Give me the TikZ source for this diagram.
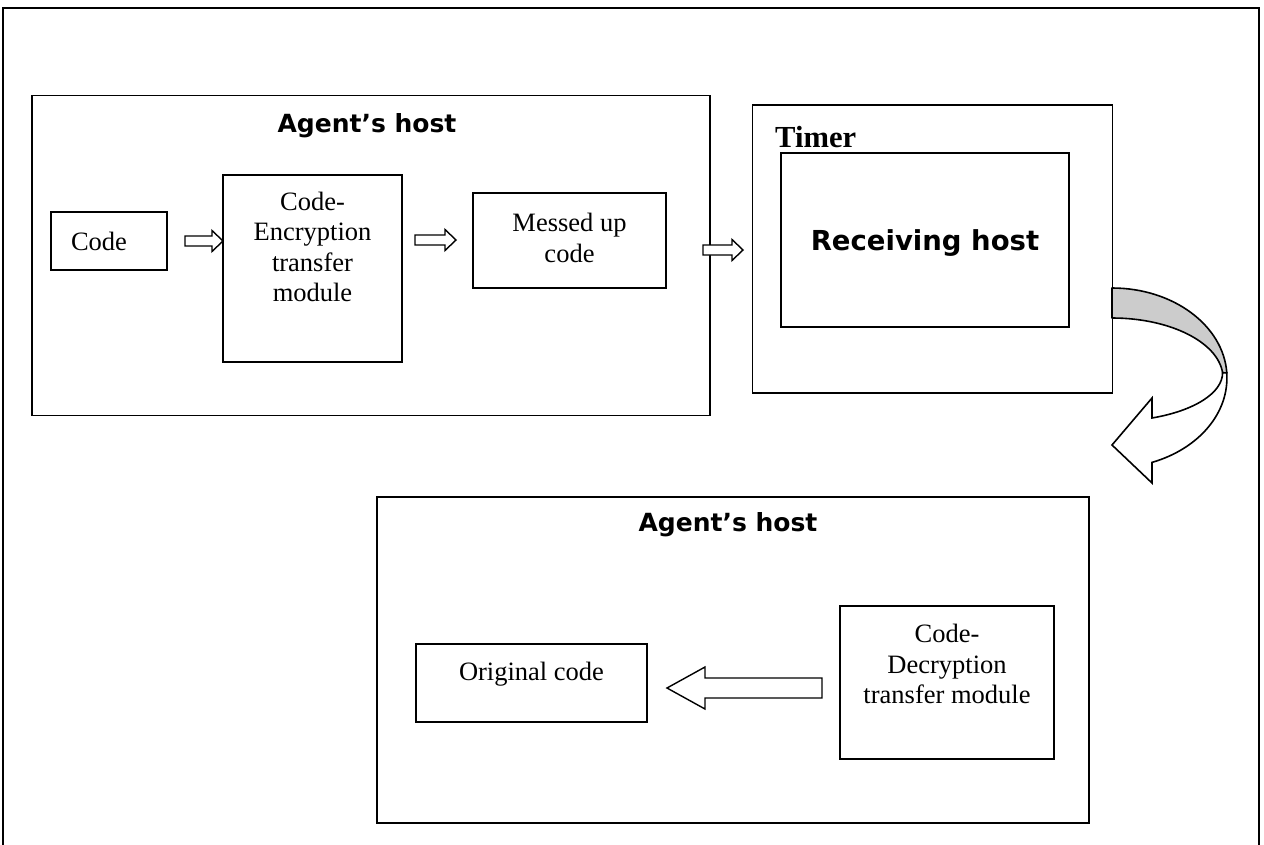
\documentclass[tikz,border=0pt]{standalone}
\usepackage{fontspec}
\setmainfont{Liberation Serif}
\newfontfamily\headsans{DejaVu Sans}
\usetikzlibrary{calc}

\tikzset{
  frame/.style={line width=1.6pt, line cap=rect},
  box/.style={draw, line width=1.6pt, rectangle, inner sep=0pt, fill=white},
  serif/.style={font=\fontsize{26.5}{30.5}\selectfont, inner sep=0pt, align=center},
  head/.style={font=\headsans\bfseries\fontsize{25}{30}\selectfont, inner sep=0pt},
  bighead/.style={font=\headsans\bfseries\fontsize{27.5}{32}\selectfont, inner sep=0pt},
  timerlbl/.style={font=\bfseries\fontsize{30.6}{34}\selectfont, inner sep=0pt, anchor=base west},
  blockarrow/.style={draw, line width=1.4pt, fill=white, line join=miter},
  bandback/.style={draw, line width=1.6pt, fill=black!20, line join=round},
  bandfront/.style={draw, line width=1.6pt, fill=white, line join=miter},
}

% horizontal block arrow: #1 tail coordinate, #2 tip coordinate,
% #3 half shaft height, #4 half head height, #5 head length (negative when pointing left)
\newcommand{\hblock}[5]{%
  \draw[blockarrow]
    ($(#1)+(0,-#3)$) -- ($(#2)+(-#5,-#3)$) -- ($(#2)+(-#5,-#4)$) -- (#2)
    -- ($(#2)+(-#5,#4)$) -- ($(#2)+(-#5,#3)$) -- ($(#1)+(0,#3)$) -- cycle;}

\begin{document}
\begin{tikzpicture}[x=1pt, y=-1pt]
  \useasboundingbox (0,0) rectangle (1264,844);

  % page frame, open at the bottom
  \draw[frame] (3,844) -- (3,8) -- (1259,8) -- (1259,844);

  % ---- sending host ----
  \node[box, minimum width=678, minimum height=320] (hostA) at (371,255.5) {};
  \node[head] (hostAt) at (367,126) {Agent’s host};

  \node[box, minimum width=116, minimum height=58] (code) at (109,241) {};
  \node[serif] (codet) at (99,241) {Code};

  \node[box, minimum width=179, minimum height=187] (enc) at (312.5,268.5) {};
  \node[serif] (enct) at (312.5,247) {Code-\\Encryption\\transfer\\module};

  \node[box, minimum width=193, minimum height=95] (mess) at (569.5,240.5) {};
  \node[serif] (messt) at (569.5,238) {Messed up\\code};

  % ---- timer and receiving host ----
  \node[box, minimum width=360, minimum height=288] (timer) at (932.5,249) {};
  \node[timerlbl] (timert) at (775,147) {Timer};
  \node[box, minimum width=288, minimum height=174] (recv) at (925,240) {};
  \node[bighead] (recvt) at (925,243) {Receiving host};

  % ---- returning host ----
  \node[box, minimum width=712, minimum height=326] (hostB) at (733,660) {};
  \node[head] (hostBt) at (728,525) {Agent’s host};

  \node[box, minimum width=231, minimum height=78] (orig) at (531.5,683) {};
  \node[serif] (origt) at (531.5,674) {Original code};

  \node[box, minimum width=214, minimum height=153] (dec) at (947,682.5) {};
  \node[serif] (dect) at (947,664) {Code-\\Decryption\\transfer module};

  % ---- block arrows between the boxes ----
  \coordinate (a1s) at (185,241);  \coordinate (a1e) at (223,241);
  \coordinate (a2s) at (415,240);  \coordinate (a2e) at (456,240);
  \coordinate (a3s) at (703,250);  \coordinate (a3e) at (743,250);
  \coordinate (a4s) at (822,688);  \coordinate (a4e) at (667,688);
  \hblock{a1s}{a1e}{5}{10.5}{11}
  \hblock{a2s}{a2e}{5}{10.5}{11}
  \hblock{a3s}{a3e}{5}{10.5}{11}
  \hblock{a4s}{a4e}{10}{21}{-38}

  % ---- curved arrow from the timer down to the returning host ----
  \coordinate (cusp) at (1222.58,372.77);
  \coordinate (bandtop) at (1112,288);
  \draw[bandback]
    (bandtop) arc[start angle=-90, end angle=-3.3, x radius=115, y radius=90]
    -- (cusp) arc[start angle=-5, end angle=-90, x radius=111, y radius=60]
    -- cycle;
  \draw[bandfront]
    (cusp) arc[start angle=0, end angle=68.8, x radius=110.58, y radius=48.5]
    -- (1152,398) -- (1112,445) -- (1152,483) -- (1152,462.4)
    arc[start angle=69.6, end angle=-3.3, x radius=115, y radius=90]
    -- cycle;
\end{tikzpicture}
\end{document}
